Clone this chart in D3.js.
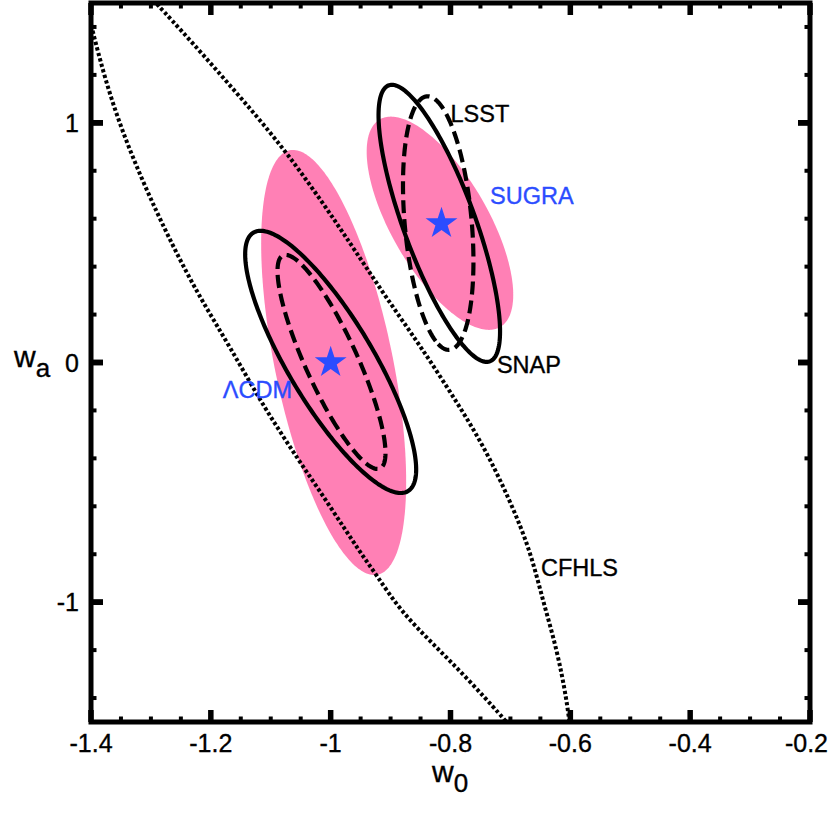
<!DOCTYPE html>
<html>
<head>
<meta charset="utf-8">
<script src="https://cdn.jsdelivr.net/npm/d3@7"></script>
<style>
  html, body { margin: 0; padding: 0; background: #fff; }
  svg { display: block; }
  text { font-family: "Liberation Sans", Arial, Helvetica, sans-serif; }
</style>
</head>
<body>
<svg id="chart" width="830" height="814"></svg>
<script>
// ---------------- data ----------------
const w0Ticks = [-1.4, -1.2, -1, -0.8, -0.6, -0.4, -0.2];
const waTicks = [-1, 0, 1];
const w0MinorStep = 0.05;
const waMinorStep = 0.2;

// fiducial models (stars)
const modelNames = ["ΛCDM", "SUGRA"];
const modelW0 = [-1.0, -0.815];
const modelWa = [0.0, 0.58];

// combined (filled) contours: centre, half-extent in w0, half-extent in wa, correlation
const filledW0 = [-0.995, -0.8176];
const filledWa = [0.0, 0.581];
const filledSW0 = [0.121, 0.1223];
const filledSWa = [0.887, 0.445];
const filledRho = [-0.56, -0.67];

// SNAP (solid) contours
const snapW0 = [-1.0, -0.8187];
const snapWa = [0.0025, 0.5806];
const snapSW0 = [0.1427, 0.1014];
const snapSWa = [0.547, 0.578];
const snapRho = [-0.82, -0.78];

// LSST (dashed) contours
const lsstW0 = [-0.9986, -0.8205];
const lsstWa = [0.0025, 0.5816];
const lsstSW0 = [0.0901, 0.0588];
const lsstSWa = [0.4466, 0.529];
const lsstRho = [-0.85, -0.30];

// CFHLS (dotted) band edges
const cfhlsLowerW0 = [-1.402, -1.368, -1.318, -1.263, -1.218, -1.168, -1.113, -1.056, -1.001, -0.951, -0.923, -0.884, -0.829, -0.773, -0.712, -0.701];
const cfhlsLowerWa = [1.43, 1.096, 0.775, 0.482, 0.270, 0.065, -0.180, -0.398, -0.600, -0.792, -0.888, -1.035, -1.175, -1.315, -1.483, -1.517];
const cfhlsUpperW0 = [-1.2965, -1.235, -1.151, -1.073, -0.984, -0.913, -0.856, -0.801, -0.746, -0.701, -0.667, -0.646, -0.622, -0.606, -0.601];
const cfhlsUpperWa = [1.513, 1.347, 1.108, 0.879, 0.562, 0.290, 0.090, -0.120, -0.340, -0.574, -0.783, -0.992, -1.200, -1.409, -1.513];

// labels
const labelText = ["LSST", "SUGRA", "SNAP", "CFHLS", "ΛCDM"];
const labelW0 = [-0.8, -0.734, -0.7225, -0.649, -1.18];
const labelWa = [1.004, 0.662, -0.043, -0.891, -0.148];
const labelColor = ["#000", "#2b4cff", "#000", "#000", "#2b4cff"];

// ---------------- drawing ----------------
const svg = d3.select("#chart");
const x = d3.scaleLinear().domain([-1.4, -0.2]).range([91, 810]);
const y = d3.scaleLinear().domain([-1.5, 1.5]).range([722, 3]);

const defs = svg.append("defs");
defs.append("clipPath").attr("id", "plotclip")
  .append("rect").attr("x", x(-1.4)).attr("y", y(1.5))
  .attr("width", x(-0.2) - x(-1.4)).attr("height", y(-1.5) - y(1.5));

const plot = svg.append("g").attr("clip-path", "url(#plotclip)");

function ellipsePoints(cx, cy, sx, sy, rho) {
  const n = 240, pts = [];
  const s = Math.sqrt(1 - rho * rho);
  for (let i = 0; i < n; i++) {
    const t = (i / n) * 2 * Math.PI - Math.PI / 2;
    pts.push([cx + sx * Math.cos(t), cy + sy * (rho * Math.cos(t) + s * Math.sin(t))]);
  }
  return pts;
}
const closedLine = d3.line().x(d => x(d[0])).y(d => y(d[1])).curve(d3.curveLinearClosed);

// filled contours
filledW0.forEach((c, i) => {
  plot.append("path")
    .attr("d", closedLine(ellipsePoints(c, filledWa[i], filledSW0[i], filledSWa[i], filledRho[i])))
    .attr("fill", "#ff80b5").attr("stroke", "none");
});

// CFHLS dotted edges
const openLine = d3.line().x(d => x(d[0])).y(d => y(d[1])).curve(d3.curveBasis);
[[cfhlsLowerW0, cfhlsLowerWa], [cfhlsUpperW0, cfhlsUpperWa]].forEach(([xs, ys]) => {
  plot.append("path")
    .attr("d", openLine(xs.map((v, i) => [v, ys[i]])))
    .attr("fill", "none").attr("stroke", "#000")
    .attr("stroke-width", 4).attr("stroke-dasharray", "3.3 2.4");
});

// SNAP solid contours
snapW0.forEach((c, i) => {
  plot.append("path")
    .attr("d", closedLine(ellipsePoints(c, snapWa[i], snapSW0[i], snapSWa[i], snapRho[i])))
    .attr("fill", "none").attr("stroke", "#000").attr("stroke-width", 4.2);
});

// LSST dashed contours
lsstW0.forEach((c, i) => {
  plot.append("path")
    .attr("d", closedLine(ellipsePoints(c, lsstWa[i], lsstSW0[i], lsstSWa[i], lsstRho[i])))
    .attr("fill", "none").attr("stroke", "#000").attr("stroke-width", 4.2)
    .attr("stroke-dasharray", "13 6");
});

// fiducial stars
const star = d3.symbol().type(d3.symbolStar).size(315);
modelW0.forEach((c, i) => {
  plot.append("path").attr("d", star())
    .attr("transform", `translate(${x(c)},${y(modelWa[i])})`)
    .attr("fill", "#2b4cff");
});

// labels
labelText.forEach((t, i) => {
  svg.append("text").text(t)
    .attr("x", x(labelW0[i])).attr("y", y(labelWa[i]))
    .attr("font-size", 23.5).attr("fill", labelColor[i])
    .attr("stroke", labelColor[i]).attr("stroke-width", 0.35);
});

// frame
svg.append("rect")
  .attr("x", x(-1.4)).attr("y", y(1.5))
  .attr("width", x(-0.2) - x(-1.4)).attr("height", y(-1.5) - y(1.5))
  .attr("fill", "none").attr("stroke", "#000").attr("stroke-width", 5);

// ticks
const xMinor = d3.range(-1.4, -0.2 + 1e-9, w0MinorStep).map(v => +v.toFixed(3));
const yMinor = d3.range(-1.4, 1.5, waMinorStep).map(v => +v.toFixed(3));
const isMajorX = v => w0Ticks.some(t => Math.abs(t - v) < 1e-6);
const isMajorY = v => waTicks.some(t => Math.abs(t - v) < 1e-6);

const tk = svg.append("g").attr("stroke", "#000");
xMinor.forEach(v => {
  const maj = isMajorX(v);
  const len = maj ? 12 : 5.5;
  const sw = maj ? 5.5 : 4;
  tk.append("line").attr("x1", x(v)).attr("x2", x(v)).attr("y1", y(-1.5)).attr("y2", y(-1.5) - len).attr("stroke-width", sw);
  tk.append("line").attr("x1", x(v)).attr("x2", x(v)).attr("y1", y(1.5)).attr("y2", y(1.5) + len).attr("stroke-width", sw);
});
yMinor.concat(waTicks).forEach(v => {
  const maj = isMajorY(v);
  const len = maj ? 12 : 5.5;
  const sw = maj ? 5.5 : 4;
  tk.append("line").attr("y1", y(v)).attr("y2", y(v)).attr("x1", x(-1.4)).attr("x2", x(-1.4) + len).attr("stroke-width", sw);
  tk.append("line").attr("y1", y(v)).attr("y2", y(v)).attr("x1", x(-0.2)).attr("x2", x(-0.2) - len).attr("stroke-width", sw);
});

// tick labels
w0Ticks.forEach((v, i) => {
  const last = i === w0Ticks.length - 1;
  svg.append("text").text(String(v))
    .attr("x", last ? 828 : x(v)).attr("y", 752)
    .attr("text-anchor", last ? "end" : "middle").attr("font-size", 25).attr("fill", "#000")
    .attr("stroke", "#000").attr("stroke-width", 0.35);
});
waTicks.forEach(v => {
  svg.append("text").text(String(v))
    .attr("x", 79).attr("y", y(v) + 9)
    .attr("text-anchor", "end").attr("font-size", 25).attr("fill", "#000")
    .attr("stroke", "#000").attr("stroke-width", 0.35);
});

// axis titles
const xt = svg.append("text").attr("x", 432).attr("y", 782).attr("fill", "#000")
  .attr("stroke", "#000").attr("stroke-width", 0.35);
xt.append("tspan").text("w").attr("font-size", 30);
xt.append("tspan").text("0").attr("font-size", 26).attr("dy", 10);

const yt = svg.append("text").attr("x", 14).attr("y", 367).attr("fill", "#000")
  .attr("stroke", "#000").attr("stroke-width", 0.35);
yt.append("tspan").text("w").attr("font-size", 30);
yt.append("tspan").text("a").attr("font-size", 26).attr("dy", 10);
</script>
</body>
</html>
